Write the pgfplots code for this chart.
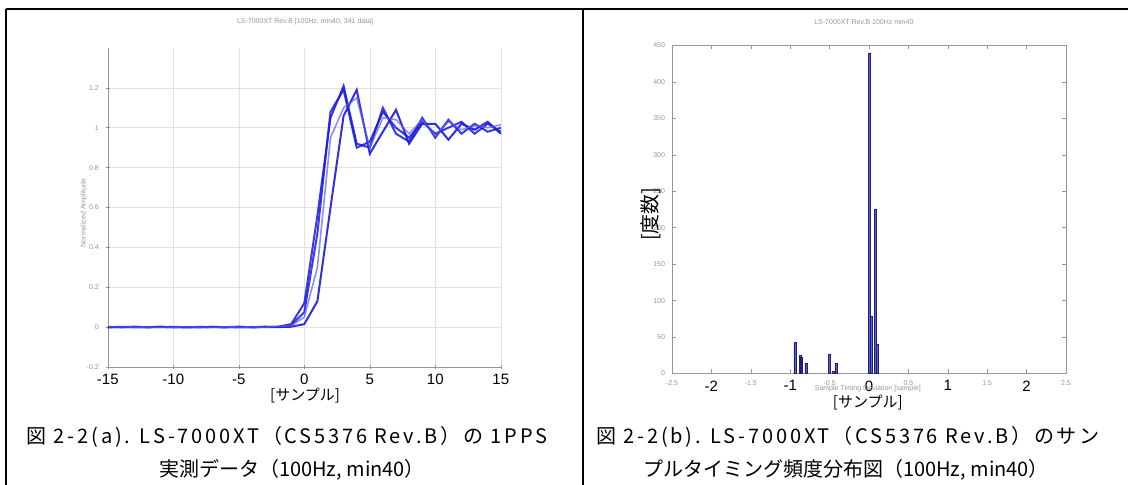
\documentclass[border=0pt]{standalone}
\usepackage{pgfplots}
\pgfplotsset{compat=1.18}
\usepackage{fontspec}
\setmainfont{Liberation Sans}
\newfontfamily\jp{Noto Sans CJK JP}
\newfontfamily\jpwide[LetterSpace=14]{Noto Sans CJK JP}
\definecolor{lineblue}{RGB}{25,25,220}
\definecolor{barfill}{RGB}{95,95,205}
\definecolor{baredge}{RGB}{30,30,120}
\definecolor{faint}{RGB}{150,150,150}
\definecolor{gridc}{RGB}{225,225,225}
\pgfplotstableread{
x a b c d
-15 0.000 0.002 -0.001 0.001
-14 0.001 -0.001 0.000 0.002
-13 -0.001 0.001 0.002 0.000
-12 0.000 0.000 -0.001 0.001
-11 0.001 0.002 0.000 -0.001
-10 0.000 -0.001 0.001 0.000
-9 -0.001 0.000 0.000 0.002
-8 0.000 0.001 -0.001 0.000
-7 0.001 0.000 0.001 -0.001
-6 0.000 -0.001 0.000 0.001
-5 -0.001 0.001 0.002 0.000
-4 0.000 0.000 -0.001 0.001
-3 0.001 0.002 0.000 0.000
-2 0.002 0.001 0.000 0.003
-1 0.015 0.010 0.002 0.008
0 0.120 0.075 0.015 0.050
1 0.560 0.470 0.130 0.300
2 1.050 1.080 0.600 0.950
3 1.210 1.190 1.060 1.100
4 0.920 0.900 1.190 1.150
5 0.900 0.930 0.870 0.900
6 1.100 1.080 0.980 1.050
7 0.970 1.000 1.090 1.040
8 0.930 0.950 0.920 0.970
9 1.050 1.030 1.020 1.040
10 0.950 0.970 1.020 0.960
11 1.040 1.000 0.940 1.030
12 0.970 1.030 1.020 0.990
13 1.020 0.970 0.990 1.010
14 0.980 1.020 1.030 1.000
15 1.000 0.980 0.970 1.015
}\stepdata
\pgfplotstableread{
x n
-0.94 43
-0.87 25
-0.86 22
-0.80 14
-0.50 27
-0.46 3
-0.42 14
0.00 440
0.03 79
0.08 226
0.11 40
}\histdata
\begin{document}
\begin{tikzpicture}
\useasboundingbox (0pt,0pt) rectangle (564pt,-242.5pt);
% table frame
\draw[line width=1pt] (3pt,-4.5pt) -- (564pt,-4.5pt);
\draw[line width=1pt] (3pt,-4.5pt) -- (3pt,-242.5pt);
\draw[line width=1pt] (291.5pt,-4.5pt) -- (291.5pt,-242.5pt);
% left plot
\begin{axis}[
  at={(53.9pt,-183.5pt)}, anchor=south west,
  scale only axis, width=196.5pt, height=159.5pt,
  xmin=-15, xmax=15, ymin=-0.2, ymax=1.4,
  axis x line=bottom, axis y line=left,
  axis line style={-, faint, line width=0.3pt},
  xtick={-15,-10,-5,0,5,10,15},
  xticklabels={-15,-10,-5,0,5,10,15},
  ytick={-0.2,0,0.2,0.4,0.6,0.8,1,1.2},
  yticklabels={-0.2,0,0.2,0.4,0.6,0.8,1,1.2},
  xticklabel style={font=\fontsize{7.5}{8}\selectfont, black, yshift=1pt},
  yticklabel style={font=\fontsize{3.5}{4}\selectfont, faint},
  tick style={faint, line width=0.3pt},
  major tick length=2pt,
  grid=major, grid style={gridc, line width=0.3pt},
  title={LS-7000XT Rev.B [100Hz, min40, 341 data]},
  title style={font=\fontsize{3.5}{4}\selectfont, faint, at={(axis description cs:0.502,1)}, anchor=south, yshift=2pt},
  xlabel={[サンプル]},
  xlabel style={font=\jp\fontsize{7.5}{8}\selectfont, black, at={(axis description cs:0.502,-0.088)}, anchor=center},
  ylabel={Normalized Amplitude},
  ylabel style={font=\fontsize{3.5}{4}\selectfont, faint, at={(axis description cs:-0.061,0.483)}, anchor=center},
  clip=false,
]
\addplot[lineblue, line width=1pt, opacity=0.85] table[x=x,y=a] {\stepdata};
\addplot[lineblue, line width=1pt, opacity=0.85] table[x=x,y=b] {\stepdata};
\addplot[lineblue, line width=1pt, opacity=0.9] table[x=x,y=c] {\stepdata};
\addplot[lineblue!70, line width=0.8pt, opacity=0.7] table[x=x,y=d] {\stepdata};
\end{axis}
% right plot
\begin{axis}[
  at={(336pt,-186.75pt)}, anchor=south west,
  scale only axis, width=197pt, height=164pt,
  xmin=-2.5, xmax=2.5, ymin=0, ymax=450,
  axis line style={faint, line width=0.3pt},
  tick align=inside, tick pos=both,
  xtick={-2.5,-2,-1.5,-1,-0.5,0,0.5,1,1.5,2,2.5},
  xticklabels={-2.5,,-1.5,,-0.5,,0.5,,1.5,,2.5},
  extra x ticks={-2,-1,0,1,2},
  extra x tick labels={-2,-1,0,1,2},
  extra x tick style={major tick length=0pt, xticklabel style={font=\fontsize{7.5}{8}\selectfont, black, yshift=0pt}},
  ytick={0,50,...,450},
  yticklabels={0,50,100,150,200,250,300,350,400,450},
  xticklabel style={font=\fontsize{3.5}{4}\selectfont, faint},
  yticklabel style={font=\fontsize{3.5}{4}\selectfont, faint},
  tick style={faint, line width=0.3pt},
  major tick length=2pt,
  title={LS-7000XT Rev.B 100Hz min40},
  title style={font=\fontsize{3.5}{4}\selectfont, faint, at={(axis description cs:0.487,1)}, anchor=south, yshift=1pt},
  xlabel={Sample Timing Deviation [sample]},
  xlabel style={font=\fontsize{3.5}{4}\selectfont, faint, at={(axis description cs:0.497,-0.046)}, anchor=center},
  ylabel={[度数]},
  ylabel style={font=\jp\fontsize{10}{11}\selectfont, black, at={(axis description cs:-0.053,0.486)}, anchor=center},
  clip=false,
]
\addplot[ybar, bar width=0.025, bar shift=0pt, fill=barfill, draw=baredge, line width=0.2pt] table[x=x,y=n] {\histdata};
\node[font=\jp\fontsize{7.5}{8}\selectfont, black] at (axis description cs:0.497,-0.09) {[サンプル]};
\end{axis}
% captions
\node[font=\jpwide\fontsize{10}{12}\selectfont, anchor=center, inner sep=0pt] at (143.5pt,-218.5pt) {図 2-2(a). LS-7000XT（CS5376 Rev.B）の 1PPS};
\node[font=\jp\fontsize{10}{12}\selectfont, anchor=center, inner sep=0pt] at (146pt,-235pt) {実測データ（100Hz, min40）};
\node[font=\jpwide\fontsize{10}{12}\selectfont, anchor=center, inner sep=0pt] at (424pt,-218.5pt) {図 2-2(b). LS-7000XT（CS5376 Rev.B）のサン};
\node[font=\jp\fontsize{10}{12}\selectfont, anchor=center, inner sep=0pt] at (423pt,-235pt) {プルタイミング頻度分布図（100Hz, min40）};
\end{tikzpicture}
\end{document}
